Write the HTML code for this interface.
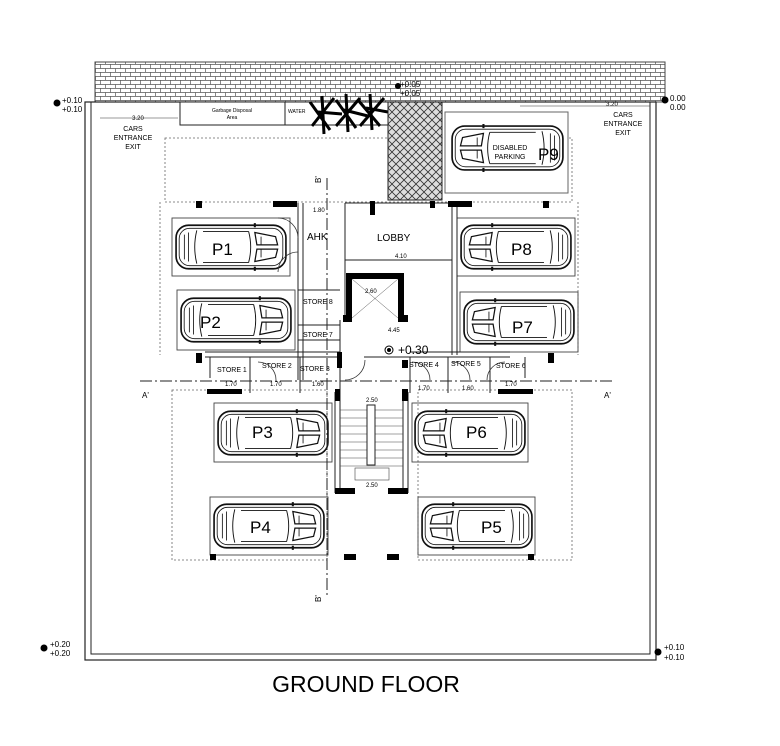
<!DOCTYPE html>
<html><head><meta charset="utf-8"><style>
html,body{margin:0;padding:0;background:#fff;}
svg{display:block;font-family:"Liberation Sans",sans-serif;}
</style></head><body>
<svg width="780" height="746" viewBox="0 0 780 746" xmlns="http://www.w3.org/2000/svg">
<defs>
<pattern id="brick" width="10" height="8" patternUnits="userSpaceOnUse">
<rect width="10" height="8" fill="#fff"/>
<path d="M0 0.5H10M0 4.5H10M0.5 0V4.5M5.5 4.5V8" stroke="#555" stroke-width="0.7" fill="none"/>
</pattern>
<pattern id="herring" width="8" height="8" patternUnits="userSpaceOnUse">
<rect width="8" height="8" fill="#ddd"/>
<path d="M0 0L8 8M0 8L8 0" stroke="#333" stroke-width="0.8"/>
</pattern>
<symbol id="car" viewBox="0 0 110 48">
<rect x="2" y="3" width="106" height="42" rx="12" fill="#fff" stroke="#111" stroke-width="1.6"/>
<rect x="5" y="6" width="100" height="36" rx="10" fill="none" stroke="#111" stroke-width="0.8"/>
<path d="M22 8 Q18 24 22 40 M72 9 Q76 24 72 39 M28 9H72 M28 39H72" fill="none" stroke="#111" stroke-width="0.9"/>
<path d="M78 10 L98 14 L100 22 L80 22Z M78 38 L98 34 L100 26 L80 26Z" fill="none" stroke="#111" stroke-width="1.2"/>
<path d="M84 14V22 M84 26V34 M10 12V36 M14 10V38" stroke="#111" stroke-width="0.8"/>
<path d="M78 1V5 M78 43V47" stroke="#111" stroke-width="2"/>
</symbol>
</defs>

<rect x="95" y="62" width="570" height="40" fill="url(#brick)" stroke="#444" stroke-width="1"/>

<rect x="85" y="102" width="571" height="558" fill="none" stroke="#222" stroke-width="1.2"/>
<rect x="91" y="102" width="559" height="552" fill="none" stroke="#222" stroke-width="1"/>

<rect x="180" y="102" width="105" height="23" fill="#fff" stroke="#222"/>
<text x="232" y="112" font-size="5" text-anchor="middle">Garbage Disposal</text>
<text x="232" y="119" font-size="5" text-anchor="middle">Area</text>
<rect x="285" y="102" width="103" height="23" fill="#fff" stroke="#222"/>
<text x="288" y="113" font-size="5">WATER</text>
<g stroke="#000" stroke-width="3">
<path d="M310 102L330 130M312 126L334 98M322 96L324 134M336 100L356 128M336 126L360 98M346 94L348 132M358 100L380 126M360 126L384 98M370 94L372 130M318 112L342 114M344 110L368 116M366 108L388 112"/>
</g>

<rect x="388" y="102" width="54" height="98" fill="url(#herring)" stroke="#222"/>
<text x="400" y="87" font-size="8">+0.05</text>
<text x="400" y="96" font-size="8">+0.05</text>
<circle cx="398" cy="86" r="3" fill="#000"/>

<g font-size="8">
<circle cx="57" cy="103" r="3.5" fill="#000"/><text x="62" y="103">+0.10</text><text x="62" y="112">+0.10</text>
<circle cx="665" cy="100" r="3.5" fill="#000"/><text x="670" y="101">0.00</text><text x="670" y="110">0.00</text>
<circle cx="44" cy="648" r="3.5" fill="#000"/><text x="50" y="647">+0.20</text><text x="50" y="656">+0.20</text>
<circle cx="658" cy="652" r="3.5" fill="#000"/><text x="664" y="650">+0.10</text><text x="664" y="660">+0.10</text>
</g>

<g font-size="7" text-anchor="middle">
<text x="133" y="131">CARS</text><text x="133" y="140">ENTRANCE</text><text x="133" y="149">EXIT</text>
<text x="623" y="117">CARS</text><text x="623" y="126">ENTRANCE</text><text x="623" y="135">EXIT</text>
<text x="138" y="120" font-size="6">3.20</text><text x="612" y="106" font-size="6">3.20</text>
</g>
<line x1="100" y1="118" x2="178" y2="118" stroke="#333" stroke-width="0.6"/>
<line x1="520" y1="106" x2="650" y2="106" stroke="#333" stroke-width="0.6"/>

<g fill="none" stroke="#666" stroke-width="0.8" stroke-dasharray="2,2">
<rect x="165" y="138" width="407" height="64"/>
<rect x="172" y="390" width="155" height="170"/>
<rect x="418" y="390" width="154" height="170"/>
<line x1="160" y1="202" x2="160" y2="355"/>
<line x1="578" y1="202" x2="578" y2="355"/>
</g>

<rect x="445" y="112" width="123" height="81" fill="#fff" stroke="#666"/>
<use href="#car" x="450" y="122" width="115" height="52" transform="translate(1015 0) scale(-1 1)"/>
<text x="510" y="150" font-size="7" text-anchor="middle">DISABLED</text>
<text x="510" y="159" font-size="7" text-anchor="middle">PARKING</text>
<text x="538" y="160" font-size="17">P9</text>

<g fill="none" stroke="#444" stroke-width="0.9">
<rect x="172" y="218" width="118" height="58"/>
<rect x="177" y="290" width="118" height="60"/>
<rect x="457" y="218" width="118" height="58"/>
<rect x="460" y="292" width="118" height="60"/>
<rect x="214" y="403" width="118" height="59"/>
<rect x="412" y="403" width="116" height="59"/>
<rect x="210" y="497" width="118" height="58"/>
<rect x="418" y="497" width="117" height="58"/>
</g>
<use href="#car" x="174" y="222" width="114" height="50"/>
<use href="#car" x="179" y="295" width="114" height="50"/>
<use href="#car" x="216" y="408" width="114" height="50"/>
<use href="#car" x="212" y="501" width="114" height="50"/>
<g transform="translate(1032 0) scale(-1 1)"><use href="#car" x="459" y="222" width="114" height="50"/></g>
<g transform="translate(1038 0) scale(-1 1)"><use href="#car" x="462" y="297" width="114" height="50"/></g>
<g transform="translate(940 0) scale(-1 1)"><use href="#car" x="413" y="408" width="114" height="50"/></g>
<g transform="translate(953 0) scale(-1 1)"><use href="#car" x="419" y="501" width="114" height="50"/></g>
<g font-size="17">
<text x="212" y="255">P1</text><text x="200" y="328">P2</text>
<text x="511" y="255">P8</text><text x="512" y="333">P7</text>
<text x="252" y="438">P3</text><text x="466" y="438">P6</text>
<text x="250" y="533">P4</text><text x="481" y="533">P5</text>
</g>

<g stroke="#222" stroke-width="1" stroke-dasharray="12,3,2,3">
<line x1="140" y1="381" x2="612" y2="381"/>
<line x1="327" y1="178" x2="327" y2="598"/>
</g>
<g font-size="8">
<text x="142" y="398">A'</text><text x="604" y="398">A'</text>
<text x="318" y="186" transform="rotate(-90 318 183)">B'</text>
<text x="318" y="605" transform="rotate(-90 318 602)">B'</text>
</g>

<g fill="none" stroke="#222" stroke-width="1">
<path d="M298 203V380 M303 203V380"/>
<path d="M345 203V320 M340 320V392 M452 203V355 M457 203V355"/>
<path d="M345 203H452 M345 260H452"/>
<path d="M298 290H340 M298 325H340 M298 340H340"/>
<path d="M205 352H340 M205 357H340 M410 357H510 M410 352H510"/>
<path d="M250 357V393 M300 357V393 M410 357V393 M448 357V393 M490 357V393"/>
<path d="M210 357V378 M525 357V378"/>
<path d="M364 357H410"/>
<path d="M335 392V493 M408 392V493 M340 392V488 M403 392V488"/>
</g>
<g fill="none" stroke="#333" stroke-width="0.8">
<path d="M278 218A20 20 0 0 1 298 238 M278 272A20 20 0 0 1 298 252"/>
<path d="M345 380A20 20 0 0 0 365 360 M412 362A18 18 0 0 1 430 380 M452 362A18 18 0 0 1 470 380 M505 362A18 18 0 0 0 487 380 M258 362A18 18 0 0 1 276 380"/>
</g>

<path d="M346 273H404V318H398V279H352V318H346Z" fill="#000"/>
<path d="M343 315H352V322H343Z M398 315H408V322H398Z" fill="#000"/>
<line x1="352" y1="279" x2="398" y2="318" stroke="#555" stroke-width="0.5"/>
<line x1="398" y1="279" x2="352" y2="318" stroke="#555" stroke-width="0.5"/>

<g stroke="#444" stroke-width="0.6">
<path d="M340 410H403M340 418H403M340 426H403M340 434H403M340 442H403M340 450H403M340 458H403M340 466H403"/>
</g>
<rect x="367" y="405" width="8" height="60" fill="#fff" stroke="#222"/>
<rect x="355" y="468" width="34" height="12" fill="none" stroke="#444" stroke-width="0.6"/>

<g fill="#000">
<rect x="196" y="201" width="6" height="7"/><rect x="273" y="201" width="24" height="6"/>
<rect x="370" y="201" width="5" height="14"/><rect x="430" y="201" width="5" height="7"/>
<rect x="448" y="201" width="24" height="6"/><rect x="543" y="201" width="6" height="7"/>
<rect x="196" y="353" width="6" height="10"/><rect x="548" y="353" width="6" height="10"/>
<rect x="337" y="352" width="5" height="16"/><rect x="402" y="360" width="6" height="8"/>
<rect x="207" y="389" width="35" height="5"/><rect x="498" y="389" width="35" height="5"/>
<rect x="335" y="389" width="5" height="12"/><rect x="402" y="389" width="6" height="12"/>
<rect x="335" y="488" width="20" height="6"/><rect x="388" y="488" width="20" height="6"/>
<rect x="210" y="554" width="6" height="6"/><rect x="344" y="554" width="12" height="6"/>
<rect x="387" y="554" width="12" height="6"/><rect x="528" y="554" width="6" height="6"/>
</g>

<g font-size="7">
<text x="307" y="240" font-size="10">AHK</text>
<text x="377" y="241" font-size="10">LOBBY</text>
<text x="395" y="258" font-size="6">4.10</text>
<text x="303" y="304">STORE 8</text>
<text x="303" y="337">STORE 7</text>
<text x="217" y="372">STORE 1</text>
<text x="262" y="368">STORE 2</text>
<text x="300" y="371">STORE 3</text>
<text x="409" y="367">STORE 4</text>
<text x="451" y="366">STORE 5</text>
<text x="496" y="368">STORE 6</text>
<text x="225" y="386" font-size="6">1.70</text><text x="270" y="386" font-size="6">1.70</text>
<text x="312" y="386" font-size="6">1.60</text><text x="418" y="390" font-size="6">1.70</text>
<text x="462" y="390" font-size="6">1.60</text><text x="505" y="386" font-size="6">1.70</text>
<text x="366" y="402" font-size="6">2.50</text><text x="366" y="487" font-size="6">2.50</text>
<text x="365" y="293" font-size="6">2.60</text>
<text x="388" y="332" font-size="6">4.45</text>
<text x="313" y="212" font-size="6">1.80</text>
<text x="398" y="354" font-size="12">+0.30</text>
</g>
<circle cx="389" cy="350" r="4" fill="none" stroke="#000"/>
<circle cx="389" cy="350" r="2" fill="#000"/>

<text x="366" y="692" font-size="23" text-anchor="middle">GROUND FLOOR</text>
</svg>
</body></html>
